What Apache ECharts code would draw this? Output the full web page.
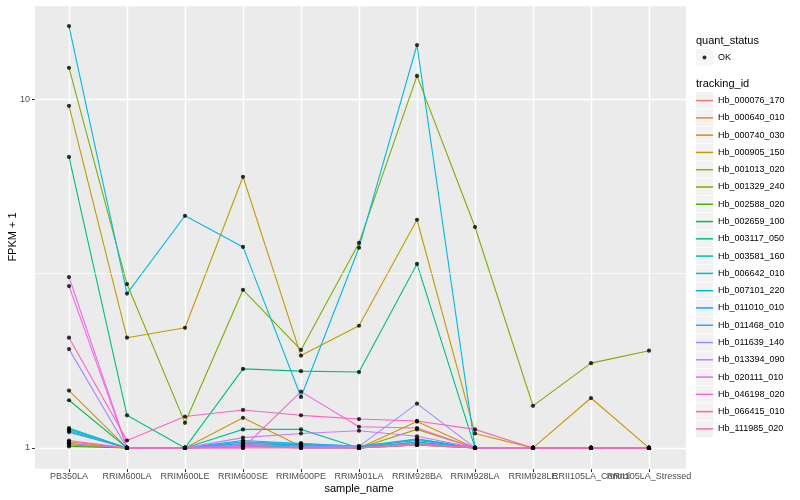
<!DOCTYPE html>
<html><head><meta charset="utf-8">
<script src="https://cdn.jsdelivr.net/npm/echarts@6/dist/echarts.min.js"></script>
<style>html,body{margin:0;padding:0;background:#fff}#c{width:800px;height:500px}</style>
</head><body><div id="c"></div>
<script>
const categories = ['PB350LA','RRIM600LA','RRIM600LE','RRIM600SE','RRIM600PE','RRIM901LA','RRIM928BA','RRIM928LA','RRIM928LE','RRII105LA_Control','RRII105LA_Stressed'];
const trackingIds = ['Hb_000076_170','Hb_000640_010','Hb_000740_030','Hb_000905_150','Hb_001013_020','Hb_001329_240','Hb_002588_020','Hb_002659_100','Hb_003117_050','Hb_003581_160','Hb_006642_010','Hb_007101_220','Hb_011010_010','Hb_011468_010','Hb_011639_140','Hb_013394_090','Hb_020111_010','Hb_046198_020','Hb_066415_010','Hb_111985_020'];
const colors = ['#F8766D','#EA8331','#D89000','#C09B00','#A3A500','#7CAE00','#39B600','#00BB4E','#00BF7D','#00C1A3','#00BFC4','#00BAE0','#00B0F6','#35A2FF','#9590FF','#C77CFF','#E76BF3','#FA62DB','#FF62BC','#FF6C91'];
const yTickLabels = [1, 10];
const yMinorBreaks = [3.162];

// FPKM + 1 per sample, same order as categories
const hb_000076_170 = [1.03,1,1,1.01,1.01,1,1.02,1,1,1,1];
const hb_000640_010 = [1.04,1,1,1.02,1.02,1,1.04,1,1,1,1];
const hb_000740_030 = [1.46,1,1,1.22,1.01,1,1.19,1,1,1,1];
const hb_000905_150 = [9.57,2.07,2.21,5.99,1.84,2.24,4.51,1.10,1,1.39,1];
const hb_001013_020 = [1.02,1,1,1.04,1.02,1,1.13,1,1,1,1];
const hb_001329_240 = [12.3,2.95,1.18,2.84,1.91,3.87,11.66,4.30,1.32,1.75,1.90];
const hb_002588_020 = [1.01,1,1,1.01,1.02,1,1.02,1,1,1,1];
const hb_002659_100 = [1.37,1,1,1.02,1,1,1.03,1,1,1,1];
const hb_003117_050 = [6.83,1.24,1,1.685,1.66,1.65,3.37,1,1,1,1];
const hb_003581_160 = [1.13,1,1,1.13,1.13,1,1.06,1,1,1,1];
const hb_006642_010 = [1.14,1,1,1.05,1.03,1.01,1.06,1,1,1,1];
const hb_007101_220 = [16.2,2.77,4.63,3.77,1.40,3.75,14.3,1,1,1,1];
const hb_011010_010 = [1.11,1,1,1.03,1.02,1,1.04,1,1,1,1];
const hb_011468_010 = [1.12,1,1,1.04,1.03,1.01,1.05,1,1,1,1];
const hb_011639_140 = [1.92,1,1,1.02,1.01,1.01,1.34,1,1,1,1];
const hb_013394_090 = [1.03,1,1,1.07,1.10,1.12,1.08,1,1,1,1];
const hb_020111_010 = [3.09,1,1,1.01,1,1,1.03,1,1,1,1];
const hb_046198_020 = [2.91,1,1,1,1.45,1.15,1.14,1,1,1,1];
const hb_066415_010 = [2.07,1.05,1.23,1.285,1.24,1.21,1.195,1.13,1,1,1];
const hb_111985_020 = [1.05,1,1,1,1,1,1.02,1,1,1,1];

const seriesValues = [hb_000076_170,hb_000640_010,hb_000740_030,hb_000905_150,hb_001013_020,hb_001329_240,hb_002588_020,hb_002659_100,hb_003117_050,hb_003581_160,hb_006642_010,hb_007101_220,hb_011010_010,hb_011468_010,hb_011639_140,hb_013394_090,hb_020111_010,hb_046198_020,hb_066415_010,hb_111985_020];

const FONT = 'Liberation Sans';
const yMin = 0.870, yMax = 18.62;

const lineSeries = trackingIds.map((id, i) => ({
  name: id, type: 'line', xAxisIndex: 1, yAxisIndex: 1,
  data: seriesValues[i], showSymbol: false, symbol: 'none',
  lineStyle: {color: colors[i], width: 1.1}, itemStyle: {color: colors[i]},
  silent: true, z: 3
}));
const pointData = [];
seriesValues.forEach(vals => vals.forEach((v, j) => pointData.push([categories[j], v])));

const legendBase = {orient: 'vertical', left: 696, itemWidth: 17, itemHeight: 16.5, itemGap: 0.8,
  padding: 0, selectedMode: false, symbolKeepAspect: true,
  textStyle: {fontSize: 9, fontFamily: FONT, color: '#000'}};

const option = {
  animation: false,
  backgroundColor: '#fff',
  title: [
    {text: 'quant_status', left: 696, top: 35, padding: 0, textStyle: {fontSize: 11, fontWeight: 'normal', fontFamily: FONT, color: '#000'}},
    {text: 'tracking_id', left: 696, top: 78, padding: 0, textStyle: {fontSize: 11, fontWeight: 'normal', fontFamily: FONT, color: '#000'}}
  ],
  legend: [
    Object.assign({}, legendBase, {id: 'trBg', top: 92, data: trackingIds, icon: 'rect', z: 2,
      itemStyle: {color: '#F2F2F2', borderWidth: 0}, textStyle: {fontSize: 9, fontFamily: FONT, color: 'rgba(0,0,0,0)'}}),
    Object.assign({}, legendBase, {id: 'trFg', top: 96.1, data: trackingIds, icon: 'path://M0,0L17,0L17,1.5L0,1.5Z', z: 3,
      itemGap: 8.28, itemStyle: {borderWidth: 0}}),
    Object.assign({}, legendBase, {id: 'okBg', top: 49, data: ['OK'], icon: 'rect', z: 2,
      itemStyle: {color: '#F2F2F2', borderWidth: 0}}),
    Object.assign({}, legendBase, {id: 'okFg', top: 53, left: 702.5, data: ['OK'], icon: 'circle', itemWidth: 4, itemHeight: 4, z: 3,
      itemStyle: {color: '#000', borderWidth: 0}, textStyle: {fontSize: 9, fontFamily: FONT, color: 'rgba(0,0,0,0)'}})
  ],
  grid: [
    {left: 35, top: 5, width: 651, height: 464, show: true, backgroundColor: '#EBEBEB', borderWidth: 0, outerBoundsMode: 'none', containLabel: false},
    {left: 69, top: 5, width: 580, height: 464, show: false, outerBoundsMode: 'none', containLabel: false}
  ],
  xAxis: [
    {gridIndex: 0, type: 'value', min: 0, max: 1, show: false},
    {gridIndex: 1, type: 'category', data: categories, boundaryGap: false,
      axisLine: {show: false},
      axisTick: {show: true, length: 3, lineStyle: {color: '#333', width: 1}},
      axisLabel: {interval: 0, hideOverlap: false, margin: 3, fontSize: 9, fontFamily: FONT, color: '#4D4D4D'},
      splitLine: {show: true, lineStyle: {color: '#fff', width: 1.4}},
      name: 'sample_name', nameLocation: 'middle', nameGap: 14, nameMoveOverlap: false,
      nameTextStyle: {fontSize: 11, fontFamily: FONT, color: '#000'}}
  ],
  yAxis: [
    {gridIndex: 0, type: 'log', logBase: 10, min: yMin, max: yMax,
      axisLine: {show: false},
      axisTick: {show: true, length: 3, lineStyle: {color: '#333'}},
      axisLabel: {margin: 5, fontSize: 9, fontFamily: FONT, color: '#4D4D4D', showMinLabel: false, showMaxLabel: false,
        formatter: v => (yTickLabels.some(t => Math.abs(t - v) < 1e-6) ? String(Math.round(v)) : '')},
      splitLine: {show: true, lineStyle: {color: '#fff', width: 1.4}},
      name: 'FPKM + 1', nameLocation: 'middle', nameGap: 17, nameRotate: 90, nameMoveOverlap: false,
      nameTextStyle: {fontSize: 11, fontFamily: FONT, color: '#000'}},
    {gridIndex: 1, type: 'log', logBase: 10, min: yMin, max: yMax, show: false, splitLine: {show: false}}
  ],
  series: [
    {name: 'minor', type: 'line', xAxisIndex: 0, yAxisIndex: 0, data: [], silent: true, z: 1,
      markLine: {silent: true, symbol: 'none', label: {show: false},
        lineStyle: {color: '#fff', width: 0.7, type: 'solid'},
        data: yMinorBreaks.map(v => ({yAxis: v}))}}
  ].concat(lineSeries).concat([
    {name: 'OK', type: 'scatter', xAxisIndex: 1, yAxisIndex: 1, data: pointData,
      symbol: 'circle', symbolSize: 4.2, itemStyle: {color: '#000'}, silent: true, z: 5}
  ])
};
const chart = echarts.init(document.getElementById('c'));
chart.setOption(option);
</script></body></html>
